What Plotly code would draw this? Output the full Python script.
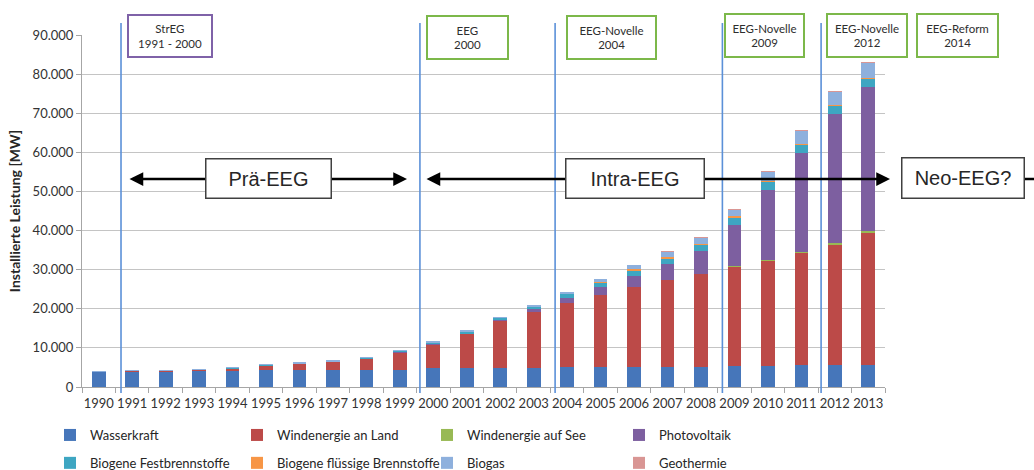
import plotly.graph_objects as go

# ---------------- data (MW) ----------------
years = [str(y) for y in range(1990, 2014)]

wasserkraft = [3900, 4000, 4000, 4100, 4200, 4300, 4300, 4300, 4300, 4400,
               4800, 4800, 4900, 4900, 5100, 5100, 5100, 5100, 5200, 5300,
               5400, 5600, 5600, 5600]
wind_land = [60, 100, 170, 330, 600, 1200, 1600, 2100, 2900, 4500,
             6100, 8800, 12000, 14500, 16400, 18300, 20500, 22200, 23700, 25600,
             27000, 28800, 30900, 33900]
wind_see = [0, 0, 0, 0, 0, 0, 0, 0, 0, 0,
            0, 0, 0, 0, 0, 0, 0, 0, 0, 40,
            80, 190, 280, 500]
photovoltaik = [0, 0, 0, 0, 10, 20, 30, 40, 50, 70,
                110, 190, 300, 440, 1200, 2100, 2900, 4200, 6000, 10400,
                18000, 25200, 33000, 36700]
festbrennstoffe = [100, 100, 100, 120, 150, 150, 150, 160, 200, 250,
                   450, 450, 450, 800, 1100, 1300, 1400, 1400, 1500, 2100,
                   2000, 2200, 2100, 2100]
fluessig = [0, 0, 0, 0, 0, 0, 0, 0, 0, 0,
            0, 0, 0, 0, 50, 150, 200, 250, 250, 250,
            250, 200, 200, 250]
biogas = [30, 30, 30, 40, 50, 60, 70, 80, 90, 100,
          120, 150, 200, 250, 500, 600, 1100, 1400, 1700, 1800,
          2300, 3400, 3500, 3850]
geothermie = [0, 0, 0, 0, 0, 0, 0, 0, 0, 0,
              0, 0, 0, 0, 0, 0, 0, 3, 3, 8,
              8, 8, 19, 31]

series_names = ["Wasserkraft", "Windenergie an Land", "Windenergie auf See", "Photovoltaik",
                "Biogene Festbrennstoffe", "Biogene flüssige Brennstoffe", "Biogas", "Geothermie"]
series_values = [wasserkraft, wind_land, wind_see, photovoltaik,
                 festbrennstoffe, fluessig, biogas, geothermie]
series_colors = ["#4676ba", "#bc4a48", "#98b954", "#7d5fa0",
                 "#3ea6c2", "#f79646", "#8eb0dd", "#d99694"]

y_ticks = list(range(0, 90001, 10000))

# ---------------- geometry helpers ----------------
W, H = 1034, 470
L, R, T, B = 82, 885, 35, 387


def px_x(px):
    return (px - L) / (R - L)


def px_y(py):
    return (B - py) / (B - T)


legend_ids = ["legend", "legend2", "legend3", "legend4"]

fig = go.Figure()
for i, (name, vals, col) in enumerate(zip(series_names, series_values, series_colors)):
    fig.add_trace(go.Bar(
        x=years, y=vals, name=name, marker=dict(color=col, line=dict(width=0)),
        legend=legend_ids[i % 4], legendgroup=name,
    ))

font_main = "Lato, 'Open Sans', sans-serif"

# legend columns (left pixel positions)
legend_cols = [50, 237, 427, 619]
legend_layout = {}
for lid, cx in zip(legend_ids, legend_cols):
    legend_layout[lid] = dict(orientation="v", x=px_x(cx), xanchor="left",
                              y=px_y(449), yanchor="middle",
                              traceorder="grouped", tracegroupgap=8,
                              font=dict(size=13, color="#262626"),
                              bgcolor="rgba(0,0,0,0)")

fig.update_layout(
    width=W, height=H,
    margin=dict(l=L, r=W - R, t=T, b=H - B, autoexpand=False),
    barmode="stack", bargap=0.59,
    plot_bgcolor="white", paper_bgcolor="white",
    separators=",.",
    font=dict(family=font_main, size=13, color="#333333"),
    xaxis=dict(type="category", showline=True, linecolor="#a6a6a6", linewidth=1,
               ticks="outside", tickson="boundaries", ticklen=5, tickcolor="#a6a6a6",
               showgrid=False, range=[-0.5, 23.5], ticklabelstandoff=4, tickangle=0,
               tickfont=dict(size=13, color="#333333")),
    yaxis=dict(range=[0, 90000], tickvals=y_ticks, tickformat=",d",
               showgrid=True, gridcolor="#c4c4c4", gridwidth=1,
               showline=True, linecolor="#a6a6a6", zeroline=False,
               ticks="outside", ticklen=5, tickcolor="#a6a6a6",
               tickfont=dict(size=13, color="#333333"),
               title=dict(text="<b>Installierte Leistung [MW]</b>", standoff=8,
                          font=dict(size=14, color="#262626"))),
    **legend_layout,
)

# ---------------- phase marker lines (category units) ----------------
phase_lines = [0.666, 9.60, 13.64, 18.64, 21.59]
shapes = []
for c in phase_lines:
    xp = (c + 0.5) / 24
    shapes.append(dict(type="line", xref="paper", yref="paper", x0=xp, x1=xp,
                       y0=px_y(393), y1=px_y(23), line=dict(color="#5b90d8", width=1.6),
                       layer="above"))
# continuation line right of "Neo-EEG?"
shapes.append(dict(type="line", xref="paper", yref="paper", x0=px_x(1025), x1=px_x(1040),
                   y0=px_y(179), y1=px_y(179), line=dict(color="black", width=2.5)))
fig.update_layout(shapes=shapes)

# ---------------- law boxes ----------------
laws = [("StrEG<br>1991 - 2000", 169.5, 35.5, 86, 44, "#7f62a8"),
        ("EEG<br>2000", 467, 37, 83, 45, "#7cb84a"),
        ("EEG-Novelle<br>2004", 611, 37, 91, 45, "#7cb84a"),
        ("EEG-Novelle<br>2009", 764, 36, 81, 45, "#7cb84a"),
        ("EEG-Novelle<br>2012", 866.5, 36, 82, 45, "#7cb84a"),
        ("EEG-Reform<br>2014", 958, 36, 83, 45, "#7cb84a")]
for text, cx, cy, w, h, col in laws:
    fig.add_annotation(text=text, xref="paper", yref="paper", x=px_x(cx), y=px_y(cy),
                       xanchor="center", yanchor="middle", showarrow=False,
                       width=w - 4, height=h - 4, borderpad=0, borderwidth=2,
                       bordercolor=col, bgcolor="white", align="center", valign="middle",
                       font=dict(family=font_main, size=11.5, color="#2e2e2e"))

# ---------------- era arrows ----------------
arrows = [(128, 407, 179), (425, 890, 179)]
for x0, x1, yy in arrows:
    fig.add_annotation(text="", xref="paper", yref="paper", x=px_x(x1), y=px_y(yy),
                       ax=-(x1 - x0), ay=0, axref="pixel", ayref="pixel",
                       showarrow=True, arrowhead=2, arrowside="end+start", arrowsize=1.1,
                       arrowwidth=2.5, arrowcolor="black", standoff=0, startstandoff=0)

eras = [("Prä-EEG", 268.5, 178.5, 127, 41),
        ("Intra-EEG", 635, 178.5, 140, 41),
        ("Neo-EEG?", 963, 178, 124, 42)]
for text, cx, cy, w, h in eras:
    fig.add_annotation(text=text, xref="paper", yref="paper", x=px_x(cx), y=px_y(cy),
                       xanchor="center", yanchor="middle", showarrow=False,
                       width=w - 3, height=h - 3, borderpad=0, borderwidth=1.5,
                       bordercolor="#404040", bgcolor="white",
                       font=dict(family="'Liberation Sans', Arial, sans-serif", size=20,
                                 color="#262626"))

fig.write_html("out.html", config={"displayModeBar": False},
               post_script="document.body.style.margin='0px';")
